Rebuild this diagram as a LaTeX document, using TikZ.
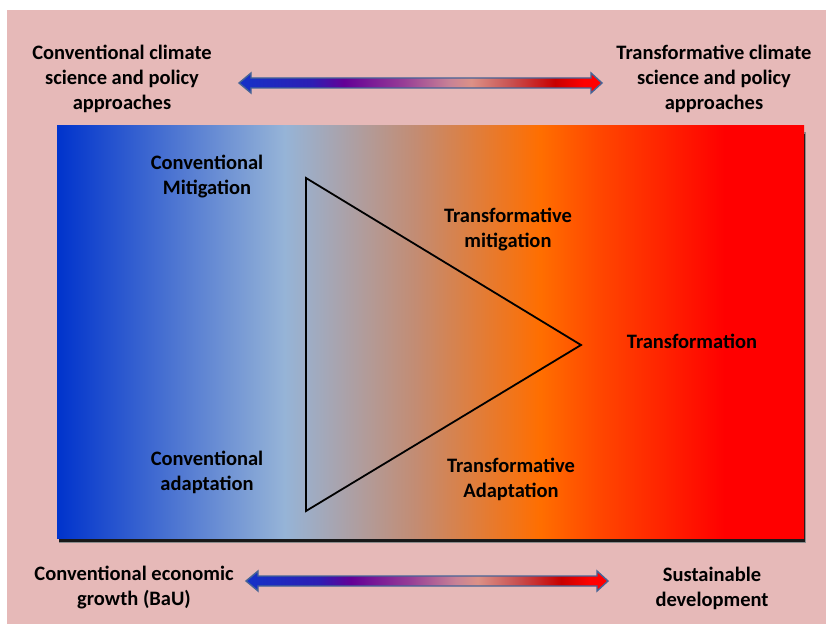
\documentclass[tikz,border=0pt]{standalone}
\usepackage{fontspec}
\setmainfont{Carlito}
\usetikzlibrary{calc}
\definecolor{bgpink}{RGB}{230,185,184}
\definecolor{gA}{RGB}{0,51,204}
\definecolor{gB}{RGB}{150,180,215}
\definecolor{gC}{RGB}{195,140,115}
\definecolor{gD}{RGB}{255,110,0}
\definecolor{gE}{RGB}{255,70,0}
\definecolor{gF}{RGB}{255,0,0}
\definecolor{aA}{RGB}{20,50,200}
\definecolor{aB}{RGB}{45,30,180}
\definecolor{aC}{RGB}{100,0,150}
\definecolor{aD}{RGB}{150,60,150}
\definecolor{aE}{RGB}{200,130,150}
\definecolor{aF}{RGB}{220,145,135}
\definecolor{aG}{RGB}{200,80,80}
\definecolor{aH}{RGB}{200,0,0}
\definecolor{aI}{RGB}{255,0,0}
\definecolor{arrowedge}{RGB}{70,100,150}
\pgfdeclarehorizontalshading{maingrad}{100bp}{color(0bp)=(gA); color(25bp)=(gA); color(40.25bp)=(gB); color(49bp)=(gC); color(57.35bp)=(gD); color(61.35bp)=(gE); color(69.7bp)=(gF); color(75bp)=(gF); color(100bp)=(gF)}
\pgfdeclarehorizontalshading{arrowgrad}{100bp}{color(0bp)=(aA); color(25bp)=(aA); color(35bp)=(aB); color(39.5bp)=(aC); color(47.5bp)=(aD); color(54bp)=(aE); color(57bp)=(aF); color(62.5bp)=(aG); color(68.5bp)=(aH); color(72.5bp)=(aI); color(75bp)=(aI); color(100bp)=(aI)}
\tikzset{
  lbl/.style={font=\fontsize{20.5}{25}\selectfont\bfseries, align=center, text=black, inner sep=0pt},
  dblarrow/.style={shading=arrowgrad, draw=arrowedge, line width=1.4pt, line join=miter}
}
\begin{document}
\begin{tikzpicture}[x=1pt,y=-1pt]
\useasboundingbox (0,0) rectangle (826,628);
% background
\fill[bgpink] (7,10) rectangle (826,624);
% main panel with shadow
\fill[black!45] (59,132) rectangle (806,543);
\fill[black!90] (59,134) rectangle (805,542);
\shade[shading=maingrad] (57,126) rectangle (804,538);
% triangle
\coordinate (tA) at (306,178);
\coordinate (tB) at (306,511);
\coordinate (tC) at (581,345);
\draw[black, line width=1.8pt, line join=miter] (tA) -- (tC) -- (tB) -- cycle;
% top arrow
\coordinate (ta1) at (239,83);
\coordinate (ta2) at (602,83);
\shade[dblarrow] (ta1) -- ($(ta1)+(12,-10)$) -- ($(ta1)+(12,-5)$) -- ($(ta2)+(-11,-5)$) -- ($(ta2)+(-11,-10)$) -- (ta2) -- ($(ta2)+(-11,10)$) -- ($(ta2)+(-11,5)$) -- ($(ta1)+(12,5)$) -- ($(ta1)+(12,10)$) -- cycle;
% bottom arrow
\coordinate (ba1) at (246,581);
\coordinate (ba2) at (608,581);
\shade[dblarrow] (ba1) -- ($(ba1)+(12,-10)$) -- ($(ba1)+(12,-5)$) -- ($(ba2)+(-11,-5)$) -- ($(ba2)+(-11,-10)$) -- (ba2) -- ($(ba2)+(-11,10)$) -- ($(ba2)+(-11,5)$) -- ($(ba1)+(12,5)$) -- ($(ba1)+(12,10)$) -- cycle;
% labels
\node[lbl] (convsci) at (122,79) {Conventional climate\\science and policy\\approaches};
\node[lbl] (transsci) at (714,79) {Transformative climate\\science and policy\\approaches};
\node[lbl] (convmit) at (207,177) {Conventional\\Mitigation};
\node[lbl] (transmit) at (508,230) {Transformative\\mitigation};
\node[lbl] (transf) at (692,341) {Transformation};
\node[lbl] (convad) at (207,472) {Conventional\\adaptation};
\node[lbl] (transad) at (511,479) {Transformative\\Adaptation};
\node[lbl] (conveco) at (134,588) {Conventional economic\\growth (BaU)};
\node[lbl] (sustdev) at (712,588) {Sustainable\\development};
\end{tikzpicture}
\end{document}
